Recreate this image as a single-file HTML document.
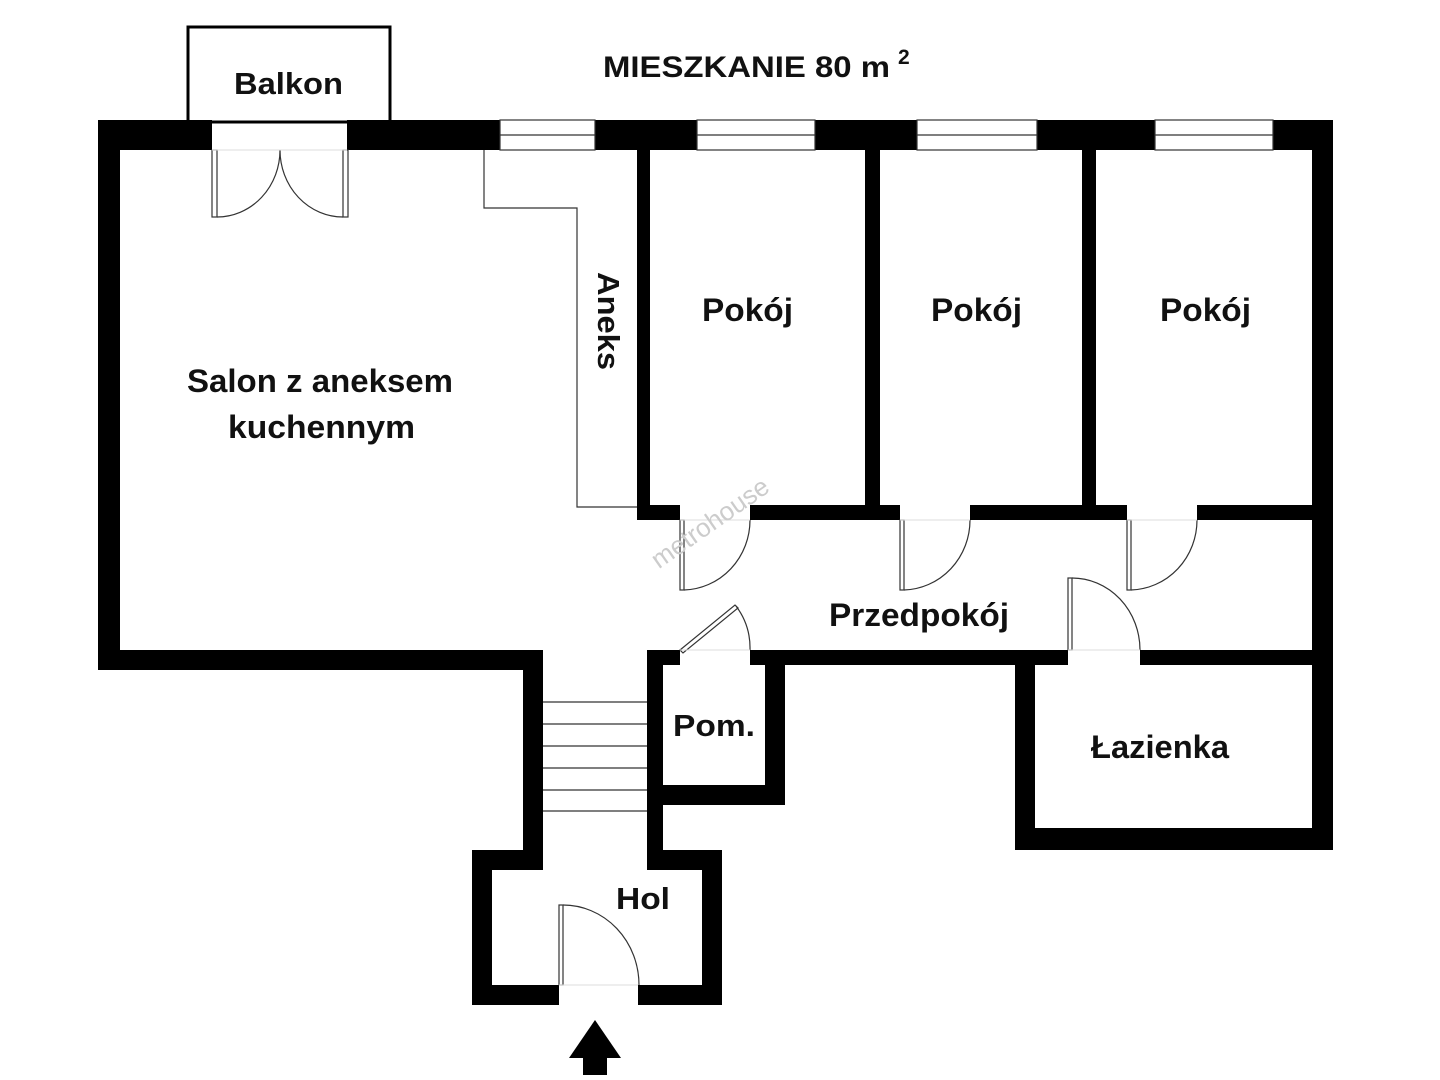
<!DOCTYPE html>
<html><head><meta charset="utf-8"><style>
html,body{margin:0;padding:0;background:#fff;}
svg{display:block}
text{font-family:"Liberation Sans",sans-serif;font-weight:bold;fill:#111;}
</style></head><body>
<svg width="1440" height="1080" viewBox="0 0 1440 1080" xmlns="http://www.w3.org/2000/svg">
<rect width="1440" height="1080" fill="#fff"/>
<rect x="188" y="27" width="202" height="95" fill="none" stroke="#000" stroke-width="3"/>
<g fill="#000">
<rect x="98" y="120" width="114" height="30"/>
<rect x="347" y="120" width="153" height="30"/>
<rect x="595" y="120" width="102" height="30"/>
<rect x="815" y="120" width="102" height="30"/>
<rect x="1037" y="120" width="118" height="30"/>
<rect x="1273" y="120" width="60" height="30"/>
<rect x="98" y="120" width="22" height="550"/>
<rect x="98" y="650" width="445" height="20"/>
<rect x="523" y="650" width="20" height="220"/>
<rect x="472" y="850" width="71" height="20"/>
<rect x="472" y="850" width="20" height="155"/>
<rect x="472" y="985" width="87" height="20"/>
<rect x="638" y="985" width="84" height="20"/>
<rect x="702" y="850" width="20" height="155"/>
<rect x="647" y="850" width="75" height="20"/>
<rect x="647" y="650" width="16" height="220"/>
<rect x="647" y="650" width="33" height="15"/>
<rect x="750" y="650" width="35" height="15"/>
<rect x="765" y="650" width="20" height="155"/>
<rect x="647" y="785" width="138" height="20"/>
<rect x="785" y="650" width="283" height="15"/>
<rect x="1140" y="650" width="193" height="15"/>
<rect x="1015" y="650" width="20" height="200"/>
<rect x="1015" y="828" width="318" height="22"/>
<rect x="1312" y="120" width="21" height="730"/>
<rect x="637" y="150" width="13" height="370"/>
<rect x="865" y="150" width="15" height="370"/>
<rect x="1082" y="150" width="14" height="370"/>
<rect x="637" y="505" width="43" height="15"/>
<rect x="750" y="505" width="150" height="15"/>
<rect x="970" y="505" width="157" height="15"/>
<rect x="1197" y="505" width="136" height="15"/>
<polygon points="595,1020 569,1058 621,1058"/>
<rect x="583" y="1057" width="24" height="18"/>
</g>
<g fill="none" stroke="#333" stroke-width="1.2">
<rect x="500" y="120" width="95" height="30"/><line x1="500" y1="135" x2="595" y2="135"/>
<rect x="697" y="120" width="118" height="30"/><line x1="697" y1="135" x2="815" y2="135"/>
<rect x="917" y="120" width="120" height="30"/><line x1="917" y1="135" x2="1037" y2="135"/>
<rect x="1155" y="120" width="118" height="30"/><line x1="1155" y1="135" x2="1273" y2="135"/>
<polyline points="484,150 484,208 577,208 577,507 637,507"/>
<rect x="212" y="150" width="5" height="67"/>
<rect x="343" y="150" width="5" height="67"/>
<path d="M217,217 A63,67 0 0 0 280,150"/>
<path d="M343,217 A63,67 0 0 1 280,150"/>
<rect x="680" y="520" width="4" height="70"/><path d="M684,590 A68,70 0 0 0 750,520"/>
<rect x="900" y="520" width="4" height="70"/><path d="M904,590 A68,70 0 0 0 970,520"/>
<rect x="1127" y="520" width="4" height="70"/><path d="M1131,590 A68,70 0 0 0 1197,520"/>
<rect x="1068" y="578" width="4" height="72"/><path d="M1072,578 A68,72 0 0 1 1140,650"/>
<polygon points="680,650 735,605 738,608 683,653"/>
<path d="M736,606 A70,70 0 0 1 750,650"/>
<rect x="559" y="905" width="4" height="80"/><path d="M563,905 A76,80 0 0 1 639,985"/>
<line x1="543" y1="702" x2="647" y2="702"/>
<line x1="543" y1="724" x2="647" y2="724"/>
<line x1="543" y1="746" x2="647" y2="746"/>
<line x1="543" y1="768" x2="647" y2="768"/>
<line x1="543" y1="790" x2="647" y2="790"/>
<line x1="543" y1="811" x2="647" y2="811"/>
</g>
<g stroke="#ddd" stroke-width="1">
<line x1="212" y1="150" x2="347" y2="150"/>
<line x1="680" y1="520" x2="750" y2="520"/>
<line x1="900" y1="520" x2="970" y2="520"/>
<line x1="1127" y1="520" x2="1197" y2="520"/>
<line x1="680" y1="650" x2="750" y2="650"/>
<line x1="1068" y1="650" x2="1140" y2="650"/>
<line x1="559" y1="985" x2="638" y2="985"/>
</g>
<text x="715" y="530" font-size="26" transform="rotate(-35 715 530)" text-anchor="middle" style="fill:#ccc;font-weight:normal">metrohouse</text>
<text x="603" y="77" font-size="30" textLength="287" lengthAdjust="spacingAndGlyphs">MIESZKANIE 80 m</text>
<text x="898" y="64" font-size="21">2</text>
<text x="234" y="94" font-size="31" textLength="109" lengthAdjust="spacingAndGlyphs">Balkon</text>
<text x="702" y="321" font-size="32" textLength="91" lengthAdjust="spacingAndGlyphs">Pokój</text>
<text x="931" y="321" font-size="32" textLength="91" lengthAdjust="spacingAndGlyphs">Pokój</text>
<text x="1160" y="321" font-size="32" textLength="91" lengthAdjust="spacingAndGlyphs">Pokój</text>
<text x="187" y="392" font-size="32" textLength="266" lengthAdjust="spacingAndGlyphs">Salon z aneksem</text>
<text x="228" y="438" font-size="32" textLength="187" lengthAdjust="spacingAndGlyphs">kuchennym</text>
<text x="0" y="0" font-size="31" transform="translate(598,272) rotate(90)" textLength="98" lengthAdjust="spacingAndGlyphs">Aneks</text>
<text x="829" y="626" font-size="32" textLength="180" lengthAdjust="spacingAndGlyphs">Przedpokój</text>
<text x="673" y="736" font-size="31" textLength="82" lengthAdjust="spacingAndGlyphs">Pom.</text>
<text x="1091" y="758" font-size="32" textLength="138" lengthAdjust="spacingAndGlyphs">Łazienka</text>
<text x="616" y="909" font-size="31" textLength="54" lengthAdjust="spacingAndGlyphs">Hol</text>
</svg>
</body></html>
